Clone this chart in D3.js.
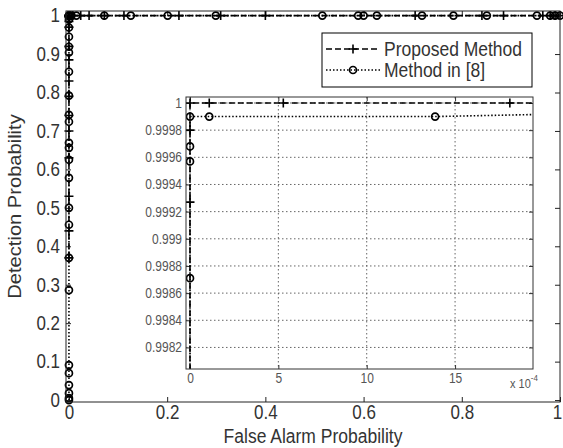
<!DOCTYPE html>
<html>
<head>
<meta charset="utf-8">
<script src="https://cdn.jsdelivr.net/npm/d3@7"></script>
<style>
  body { margin: 0; background: #fff; }
  text { font-family: "Liberation Sans", Arial, sans-serif; }
</style>
</head>
<body>
<div id="svg-container"></div>
<script>
// Tick values.
const xTicksMain = [0, 0.2, 0.4, 0.6, 0.8, 1];
const yTicksMain = [0, 0.1, 0.2, 0.3, 0.4, 0.5, 0.6, 0.7, 0.8, 0.9, 1];
const xTicksInset = [0, 0.0005, 0.001, 0.0015];
const yTicksInset = [0.9982, 0.9984, 0.9986, 0.9988, 0.999, 0.9992, 0.9994, 0.9996, 0.9998, 1];

// Proposed method (false alarm, detection).
const proposedFa = [0, 0, 0, 0, 0, 0, 0, 0, 0, 0, 0, 0, 0, 0, 0, 0,
  0.000109, 0.000528, 0.00181, 0.008, 0.024, 0.041, 0.072, 0.112, 0.224, 0.309,
  0.4, 0.705, 0.841, 0.885, 0.965, 0.98, 0.99, 1];
const proposedPd = [0.37, 0.44, 0.53, 0.63, 0.70, 0.74, 0.79, 0.83, 0.885, 0.92, 0.97,
  0.985, 0.995, 0.99927, 0.9998, 1,
  1, 1, 1, 1, 1, 1, 1, 1, 1, 1, 1, 1, 1, 1, 1, 1, 1, 1];

// Method in [8].
const method8Fa = [0, 0, 0, 0, 0, 0, 0, 0, 0, 0, 0, 0, 0, 0, 0, 0, 0, 0, 0, 0, 0, 0,
  0, 0, 0, 0, 0, 0.000109, 0.001387, 0.0051, 0.015, 0.072, 0.126, 0.201, 0.299,
  0.516, 0.589, 0.6, 0.627, 0.719, 0.783, 0.851, 0.953, 0.98, 0.99, 1];
const method8Pd = [0, 0.005, 0.018, 0.039, 0.07, 0.091, 0.286, 0.37, 0.456, 0.5, 0.578,
  0.625, 0.656, 0.669, 0.724, 0.742, 0.792, 0.854, 0.904, 0.919, 0.945, 0.969, 0.99,
  0.99871, 0.99957, 0.99968, 0.9999, 0.9999, 0.9999, 1, 1, 1, 1, 1, 1,
  1, 1, 1, 1, 1, 1, 1, 1, 1, 1, 1];

const proposed = proposedFa.map((d, i) => ({x: d, y: proposedPd[i]}));
const method8 = method8Fa.map((d, i) => ({x: d, y: method8Pd[i]}));

const width = 563;
const height = 448;
const main = {left: 66, right: 560, top: 11, bottom: 402};
const inset = {left: 186, right: 533, top: 97, bottom: 369};
// The picture is a bit taller than wide, so the text is stretched too.
const stretch = 1.15;

const svg = d3.select('#svg-container')
  .append('svg')
  .attr('width', width)
  .attr('height', height);

const fmt = d3.format('~g');

function drawSeries(g, data, x, y, dash, marker)
{
  const line = d3.line().x((d) => x(d.x)).y((d) => y(d.y));
  g.append('path')
    .datum(data)
    .attr('d', line)
    .attr('fill', 'none')
    .attr('stroke', '#000')
    .attr('stroke-width', 1.6)
    .attr('stroke-dasharray', dash);
  if (marker === 'plus')
  {
    g.selectAll(null)
      .data(data)
      .enter()
      .append('path')
      .attr('d', (d) => `M${x(d.x) - 4.5},${y(d.y)}H${x(d.x) + 4.5}M${x(d.x)},${y(d.y) - 4.5}V${y(d.y) + 4.5}`)
      .attr('stroke', '#000')
      .attr('stroke-width', 1.6);
  }
  else
  {
    g.selectAll(null)
      .data(data)
      .enter()
      .append('circle')
      .attr('cx', (d) => x(d.x))
      .attr('cy', (d) => y(d.y))
      .attr('r', 3.5)
      .attr('fill', 'none')
      .attr('stroke', '#000')
      .attr('stroke-width', 1.7);
  }
}

// Main axes.
const xMain = d3.scaleLinear().domain([-0.006, 1]).range([main.left, main.right]);
const yMain = d3.scaleLinear().domain([-0.005, 1.012]).range([main.bottom, main.top]);

const mainAxisStyle = (g) =>
{
  g.select('.domain').remove();
  g.selectAll('line').attr('stroke', '#222');
  g.selectAll('text')
    .style('font-size', '17px')
    .attr('fill', '#333')
    .attr('transform', `scale(1,${stretch})`);
};

svg.append('g')
  .attr('transform', `translate(0,${main.bottom})`)
  .call(d3.axisBottom(xMain).tickValues(xTicksMain).tickSize(-5).tickPadding(3).tickFormat(fmt))
  .call(mainAxisStyle)
  .call((g) => g.selectAll('text').filter((d) => d === 1).attr('dx', -3));
svg.append('g')
  .attr('transform', `translate(0,${main.top})`)
  .call(d3.axisTop(xMain).tickValues(xTicksMain).tickSize(-5).tickFormat(''))
  .call(mainAxisStyle);
svg.append('g')
  .attr('transform', `translate(${main.left},0)`)
  .call(d3.axisLeft(yMain).tickValues(yTicksMain).tickSize(-5).tickPadding(6).tickFormat(fmt))
  .call(mainAxisStyle);
svg.append('g')
  .attr('transform', `translate(${main.right},0)`)
  .call(d3.axisRight(yMain).tickValues(yTicksMain).tickSize(-5).tickFormat(''))
  .call(mainAxisStyle);

svg.append('defs').append('clipPath')
  .attr('id', 'clip-main')
  .append('rect')
  .attr('x', main.left - 6)
  .attr('y', main.top - 6)
  .attr('width', main.right - main.left + 12)
  .attr('height', main.bottom - main.top + 12);

const gMain = svg.append('g').attr('clip-path', 'url(#clip-main)');
drawSeries(gMain, method8, xMain, yMain, '1.5,2', 'circle');
drawSeries(gMain, proposed, xMain, yMain, '6,3', 'plus');

svg.append('rect')
  .attr('x', main.left)
  .attr('y', main.top)
  .attr('width', main.right - main.left)
  .attr('height', main.bottom - main.top)
  .attr('fill', 'none')
  .attr('stroke', '#222')
  .attr('stroke-width', 1);

svg.append('text')
  .attr('transform', `translate(${(main.left + main.right) / 2},443) scale(1,${stretch})`)
  .attr('text-anchor', 'middle')
  .attr('fill', '#333')
  .style('font-size', '17.5px')
  .text('False Alarm Probability');

svg.append('text')
  .attr('transform', `translate(21,${(main.top + main.bottom) / 2}) rotate(-90) scale(${stretch},1)`)
  .attr('text-anchor', 'middle')
  .attr('fill', '#333')
  .style('font-size', '17.5px')
  .text('Detection Probability');

// Inset axes.
const xInset = d3.scaleLinear().domain([-0.0000226, 0.001941]).range([inset.left, inset.right]);
const yInset = d3.scaleLinear().domain([0.9980413, 1.0000441]).range([inset.bottom, inset.top]);

svg.append('rect')
  .attr('x', inset.left)
  .attr('y', inset.top)
  .attr('width', inset.right - inset.left)
  .attr('height', inset.bottom - inset.top)
  .attr('fill', '#fff');

// Grid.
const grid = svg.append('g');
grid.selectAll(null)
  .data(xTicksInset)
  .enter()
  .append('line')
  .attr('x1', (d) => xInset(d))
  .attr('x2', (d) => xInset(d))
  .attr('y1', inset.top)
  .attr('y2', inset.bottom)
  .attr('stroke', '#555')
  .attr('stroke-width', 0.9)
  .attr('stroke-dasharray', '1.5,2.5');
grid.selectAll(null)
  .data(yTicksInset)
  .enter()
  .append('line')
  .attr('x1', inset.left)
  .attr('x2', inset.right)
  .attr('y1', (d) => yInset(d))
  .attr('y2', (d) => yInset(d))
  .attr('stroke', '#555')
  .attr('stroke-width', 0.9)
  .attr('stroke-dasharray', '1.5,2.5');

const insetAxisStyle = (g) =>
{
  g.select('.domain').remove();
  g.selectAll('line').attr('stroke', '#333');
  g.selectAll('text')
    .style('font-size', '12px')
    .attr('fill', '#555')
    .attr('transform', `scale(1,${stretch})`);
};

svg.append('g')
  .attr('transform', `translate(0,${inset.bottom})`)
  .call(d3.axisBottom(xInset).tickValues(xTicksInset).tickSize(-4).tickPadding(4)
    .tickFormat((d) => Math.round(d * 1e4)))
  .call(insetAxisStyle);
svg.append('g')
  .attr('transform', `translate(0,${inset.top})`)
  .call(d3.axisTop(xInset).tickValues(xTicksInset).tickSize(-4).tickFormat(''))
  .call(insetAxisStyle);
svg.append('g')
  .attr('transform', `translate(${inset.left},0)`)
  .call(d3.axisLeft(yInset).tickValues(yTicksInset).tickSize(-4).tickPadding(4).tickFormat(fmt))
  .call(insetAxisStyle);
svg.append('g')
  .attr('transform', `translate(${inset.right},0)`)
  .call(d3.axisRight(yInset).tickValues(yTicksInset).tickSize(-4).tickFormat(''))
  .call(insetAxisStyle);

svg.append('defs').append('clipPath')
  .attr('id', 'clip-inset')
  .append('rect')
  .attr('x', inset.left)
  .attr('y', inset.top)
  .attr('width', inset.right - inset.left)
  .attr('height', inset.bottom - inset.top);

const gInset = svg.append('g').attr('clip-path', 'url(#clip-inset)');
drawSeries(gInset, method8, xInset, yInset, '1.5,2', 'circle');
drawSeries(gInset, proposed, xInset, yInset, '6,3', 'plus');

svg.append('rect')
  .attr('x', inset.left)
  .attr('y', inset.top)
  .attr('width', inset.right - inset.left)
  .attr('height', inset.bottom - inset.top)
  .attr('fill', 'none')
  .attr('stroke', '#333')
  .attr('stroke-width', 1);

const expo = svg.append('text')
  .attr('transform', `translate(510,388) scale(1,${stretch})`)
  .attr('fill', '#555')
  .style('font-size', '11px');
expo.append('tspan').text('x 10');
expo.append('tspan').attr('dy', -6).style('font-size', '8px').text('-4');

// Legend.
const legendItems = [
  {name: 'Proposed Method', dash: '6,3', marker: 'plus'},
  {name: 'Method in [8]', dash: '1.5,2', marker: 'circle'},
];
const legend = svg.append('g');
legend.append('rect')
  .attr('x', 322)
  .attr('y', 33)
  .attr('width', 210)
  .attr('height', 54)
  .attr('fill', '#fff')
  .attr('stroke', '#000')
  .attr('stroke-width', 1);
legendItems.forEach((item, i) =>
{
  const ly = 49 + i * 21;
  const lx = d3.scaleLinear().domain([0, 1]).range([326, 380]);
  const ly2 = d3.scaleLinear().domain([0, 1]).range([ly, ly]);
  drawSeries(legend.append('g'), [{x: 0.5, y: 0}], lx, ly2, item.dash, item.marker);
  legend.append('line')
    .attr('x1', lx(0))
    .attr('x2', lx(1))
    .attr('y1', ly)
    .attr('y2', ly)
    .attr('stroke', '#000')
    .attr('stroke-width', 1.4)
    .attr('stroke-dasharray', item.dash);
  legend.append('text')
    .attr('transform', `translate(384,${ly}) scale(1,${stretch})`)
    .attr('dy', '0.35em')
    .attr('fill', '#333')
    .style('font-size', '17.5px')
    .text(item.name);
});
</script>
</body>
</html>
